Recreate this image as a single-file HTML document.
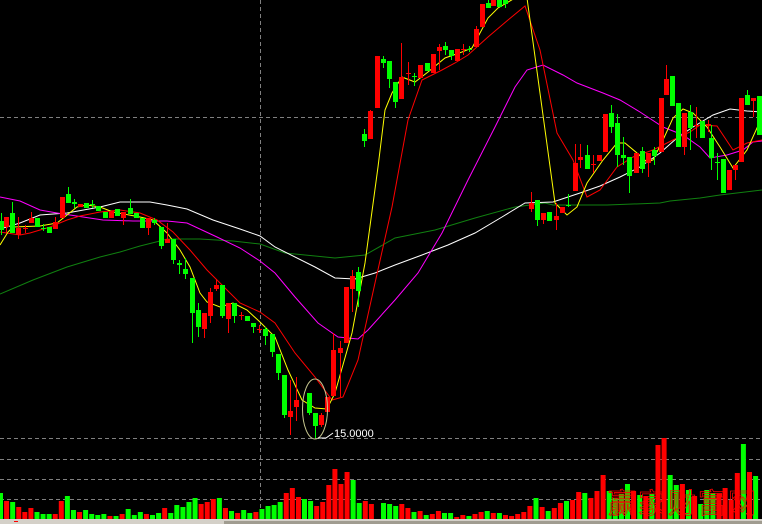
<!DOCTYPE html>
<html><head><meta charset="utf-8"><style>
html,body{margin:0;padding:0;background:#000;width:762px;height:524px;overflow:hidden}
svg{display:block}
</style></head><body>
<svg id="s" width="762" height="524" viewBox="0 0 762 524" xmlns="http://www.w3.org/2000/svg">
<rect width="762" height="524" fill="#000"/>
<g stroke="#808080" stroke-width="1" stroke-dasharray="4,3" fill="none">
<line x1="0" y1="117.5" x2="762" y2="117.5"/>
<line x1="260.5" y1="0" x2="260.5" y2="519"/>
<line x1="0" y1="438.5" x2="762" y2="438.5"/>
<line x1="0" y1="459.5" x2="762" y2="459.5"/>
<line x1="0" y1="479.5" x2="762" y2="479.5"/>
<line x1="0" y1="499.5" x2="762" y2="499.5"/>
</g>
<g id="vol"></g>
<g id="lines" fill="none" stroke-width="1"></g>
<g id="cand"></g>
<ellipse cx="315" cy="409" rx="12.5" ry="30" fill="none" stroke="#c8c890" stroke-width="1"/>
<polyline points="318,438 326,438 333,433" fill="none" stroke="#fff" stroke-width="1"/>
<text x="334" y="437" fill="#fff" font-family="Liberation Sans, sans-serif" font-size="11">15.0000</text>
<text x="608" y="513" fill="none" stroke="#ff0000" stroke-width="0.8" font-family="Liberation Sans, 'Noto Sans CJK SC', sans-serif" font-size="28" letter-spacing="2">赢家财富网</text>
<rect x="0" y="519" width="762" height="2" fill="#d4d0c8"/>
<rect x="0" y="521" width="224" height="3" fill="#d4d0c8"/>
<rect x="224" y="521" width="538" height="3" fill="#a09c90"/>
<rect x="14" y="521" width="4" height="1" fill="#f00"/>
</svg>
<script>
var NS="http://www.w3.org/2000/svg";
function el(p,t,a){var e=document.createElementNS(NS,t);for(var k in a)e.setAttribute(k,a[k]);p.appendChild(e);return e;}
var R="#ff0000",G="#00ff00";
var v1=[[219,G],[243,R],[246,G],[261,R],[276,R],[264,R],[276,G],[282,G],[282,G],[282,R],[243,R],[228,G],[270,G],[276,R],[270,G],[282,G],[285,G],[282,G],[288,R],[288,G],[282,R],[267,G],[285,G],[276,G],[282,R],[285,G],[279,G],[264,R],[279,G],[255,G],[261,G],[246,G],[234,G],[252,R],[246,R],[237,R],[234,G],[264,R],[273,G],[279,R],[270,G],[279,G],[276,R],[267,G],[258,G],[255,G],[246,G],[219,R],[204,R],[231,R],[237,G],[243,G],[258,R],[246,R],[195,R],[147,R],[192,R],[156,R],[180,G],[249,G],[243,R],[252,R]];
var v2=[[249,G],[252,G],[258,G],[252,R],[264,R],[276,G],[273,R],[285,G],[282,R],[273,R],[279,G],[279,G],[291,R],[285,R],[288,G],[282,R],[276,R],[273,G],[279,R],[279,G],[285,R],[288,R],[282,R],[276,R],[258,R],[234,G],[261,R],[273,G],[264,R],[249,R],[243,G],[240,R],[216,R],[219,G],[234,R],[213,R],[165,R],[213,G],[234,G],[222,G],[192,G],[213,R],[225,G],[228,R],[222,G],[75,R],[54,R],[165,G],[195,G],[192,R],[210,G],[228,R],[252,G],[210,G],[219,G],[220,R],[204,R],[240,R],[159,R],[72,G],[156,R],[168,G]];
var vg=document.getElementById("vol");
v1.forEach(function(d,k){var x=-2+6.08*k,y=420+d[0]/3;el(vg,"rect",{x:x,y:y,width:5,height:519-y,fill:d[1]});});
v2.forEach(function(d,j){var x=381+6.1*j,y=420+d[0]/3;el(vg,"rect",{x:x,y:y,width:5,height:519-y,fill:d[1]});});
var L={
"#108010":[[0,294],[33,280],[67,267],[100,257],[120,252],[140,246],[160,241],[167,239],[200,239],[233,241],[260,244],[285,253],[335,258],[365,255],[395,238],[435,230],[475,218],[515,207],[545,203],[553,205],[607,205],[660,203],[670,201],[700,198],[720,195],[762,190]],
"#ffffff":[[0,229],[20,223],[40,215],[67,213],[100,207],[120,202],[150,202],[167,205],[187,209],[213,220],[240,229],[260,236],[275,247],[315,267],[335,278],[355,279],[375,273],[395,265],[422,255],[448,245],[475,233],[502,217],[525,203],[553,202],[580,193],[600,186],[620,177],[640,167],[660,153],[677,138],[693,127],[713,115],[730,109],[747,111],[762,112]],
"#ff00ff":[[0,197],[20,201],[40,210],[57,213],[83,217],[103,220],[133,221],[167,221],[187,223],[217,237],[240,248],[260,261],[275,273],[295,297],[318,323],[338,337],[358,339],[368,330],[395,300],[418,273],[442,233],[468,180],[495,127],[515,87],[527,70],[543,65],[563,75],[577,83],[603,93],[620,100],[640,112],[663,127],[683,135],[700,147],[710,158],[727,155],[743,150],[753,142],[762,141]],
"#ff0000":[[0,232],[20,235],[30,233],[50,227],[67,220],[80,216],[100,212],[120,210],[140,213],[157,220],[173,232],[190,250],[207,270],[220,283],[240,303],[260,312],[275,323],[295,353],[315,377],[332,400],[343,397],[358,360],[375,283],[392,207],[408,120],[422,80],[442,70],[455,63],[468,55],[488,37],[508,20],[525,6],[540,50],[557,133],[573,160],[587,197],[600,190],[617,167],[633,157],[653,150],[663,145],[677,138],[690,132],[700,125],[717,126],[733,150],[747,143],[762,140]],
"#ffff00":[[0,245],[8,232],[13,227],[40,226],[57,223],[77,207],[87,205],[100,207],[113,212],[140,217],[153,220],[167,233],[180,250],[190,267],[200,293],[207,302],[220,307],[233,303],[247,310],[260,322],[275,337],[288,370],[302,400],[315,408],[327,409],[335,393],[352,333],[365,263],[378,167],[385,110],[392,93],[402,77],[415,82],[428,72],[445,58],[462,52],[472,48],[488,18],[498,8],[515,-2],[527,-2],[555,203],[567,215],[577,207],[587,183],[603,160],[617,143],[625,143],[637,153],[647,162],[653,160],[663,140],[673,118],[683,109],[693,113],[707,127],[720,147],[733,168],[747,150],[762,117]]
};
var lg=document.getElementById("lines");
for(var c in L){el(lg,"polyline",{points:L[c].map(function(p){return p.join(",")}).join(" "),stroke:c});}
var C=[
[1,221,230,213,235,G],[6,217,227,217,233,R],[12,213,233,202,233,G],[18,228,235,217,239,R],[25,228,229,225,233,R],[31,218,223,212,223,R],[37,218,227,218,227,G],[43,228,229,224,231,G],[49,227,233,227,233,G],[55,222,229,217,229,R],[62,197,218,197,218,R],[68,194,203,187,203,G],[74,202,204,199,208,G],[80,204,207,204,207,R],[86,203,208,203,208,G],[92,204,205,200,208,G],[98,206,211,206,211,G],[105,212,218,212,218,G],[111,211,218,211,218,R],[117,209,216,209,216,G],[123,212,218,212,225,R],[130,208,214,199,214,G],[136,213,218,213,218,G],[142,218,228,218,228,G],[148,218,228,218,235,R],[154,220,223,218,225,G],[161,227,246,227,249,G],[167,239,243,223,243,R],[173,239,260,239,264,G],[179,263,265,260,274,G],[185,269,274,258,279,G],[192,278,313,278,343,G],[198,310,327,303,337,G],[204,313,329,313,338,R],[210,292,316,288,323,R],[216,285,289,279,291,R],[222,285,316,285,318,G],[228,303,319,303,333,R],[234,303,316,303,323,G],[241,315,316,312,320,R],[247,316,321,316,321,G],[253,323,327,323,333,G],[259,329,330,325,333,R],
[265,329,336,327,345,G],[272,334,352,334,357,G],[278,354,373,354,380,G],[284,375,415,375,418,G],[290,411,417,380,435,R],[296,400,407,377,421,R],[309,393,413,393,415,G],[315,413,426,413,438,G],[321,415,425,413,427,R],[327,397,412,397,412,R],[333,350,396,333,396,R],[340,348,353,341,397,R],[346,287,343,287,343,R],[352,276,289,270,312,R],[358,272,291,267,307,G],[364,134,141,129,147,G],[370,111,139,110,139,R],[377,56,108,56,108,R],[383,59,63,56,68,G],[389,61,79,61,88,G],[395,82,102,82,108,G],[401,77,99,43,99,R],[408,73,74,62,85,R],[414,76,77,73,86,G],[420,65,78,65,78,R],[427,63,71,63,71,G],[433,54,73,54,73,R],[439,47,51,44,70,R],[445,46,50,42,55,G],[451,50,56,50,60,G],[457,49,61,49,61,R],[463,49,50,44,55,R],[469,49,50,46,52,G],[476,29,47,26,47,R],[482,4,27,4,27,R],[488,3,8,0,8,G],[493,0,6,0,6,R],[499,0,7,0,7,G],[505,0,4,0,8,G],
[531,203,209,192,212,R],[537,200,220,200,226,G],[543,213,220,213,224,R],[549,212,221,212,221,G],[556,216,220,203,230,R],[562,207,213,207,213,R],[568,205,206,194,207,G],[575,163,191,144,191,R],[580,157,160,144,168,R],[587,155,169,145,169,G],[593,164,165,155,173,R],[599,155,161,155,161,R],[605,114,152,114,152,R],[611,113,127,105,133,G],[617,123,155,114,167,G],[623,155,158,137,165,G],[629,157,176,157,193,G],[636,153,173,153,173,R],[642,151,169,147,173,G],[648,153,163,153,177,R],[654,150,156,147,165,G],[661,98,152,98,152,R],[666,79,95,65,95,R],[672,76,106,76,106,G],[678,103,147,103,147,G],[684,113,147,113,155,R],[690,112,128,105,150,G],[696,125,126,107,138,R],[702,121,138,121,138,G],[708,124,126,120,132,R],[711,138,158,125,170,G],[717,162,163,153,180,G],[723,159,193,159,193,G],[729,170,190,170,190,R],[735,165,170,165,180,R],[741,98,162,98,162,R],[747,95,105,90,105,G],[753,98,101,98,117,R],[759,96,135,96,135,G]
];
var cg=document.getElementById("cand");
C.forEach(function(d){var x=d[0],t=Math.min(d[1],d[2]),b=Math.max(d[1],d[2]),h=Math.max(b-t,1);
el(cg,"line",{x1:x+0.5,x2:x+0.5,y1:d[3],y2:d[4],stroke:d[5],"stroke-width":1});
el(cg,"rect",{x:x-2,y:t,width:5,height:h,fill:d[5]});});
</script>
</body></html>
